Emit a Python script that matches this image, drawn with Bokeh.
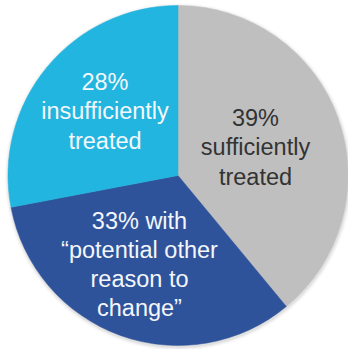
import math

from bokeh.core.properties import value
from bokeh.embed import file_html
from bokeh.models import ColumnDataSource, Range1d
from bokeh.plotting import figure
from bokeh.resources import INLINE

# Share of patients per treatment status (percent), clockwise from 12 o'clock
categories = ["sufficiently treated", "potential other reason to change", "insufficiently treated"]
shares = [39, 33, 28]
label_lines = [
    ["{}%", "sufficiently", "treated"],
    ["{}% with", "\u201cpotential other", "reason to", "change\u201d"],
    ["{}%", "insufficiently", "treated"],
]

colors = ["#BFBFBF", "#2E539B", "#21B5DF"]
text_colors = ["#333333", "#F4F6FA", "#F4F8FB"]

W, H = 348, 349
cx, cy, r = 177.5, H - 175, 170

# Label anchor points (page pixels, y measured from the top)
label_x = [255, 139, 104.5]
label_y_top = [147, 264, 111]

total = sum(shares)
starts, ends = [], []
acc = 0.0
for s in shares:
    starts.append(math.pi / 2 - 2 * math.pi * acc / total)
    acc += s
    ends.append(math.pi / 2 - 2 * math.pi * acc / total)

src = ColumnDataSource(dict(
    cat=categories, start=starts, end=ends, color=colors,
))

labels = ColumnDataSource(dict(
    x=label_x,
    y=[H - v for v in label_y_top],
    text=["\n".join([ln[0].format(v)] + ln[1:]) for ln, v in zip(label_lines, shares)],
    color=text_colors,
))

p = figure(width=W, height=H, output_backend="svg", toolbar_location=None,
           x_range=Range1d(0, W), y_range=Range1d(0, H), min_border=0)
p.axis.visible = False
p.grid.visible = False
p.outline_line_color = None
p.background_fill_color = "white"
p.border_fill_color = "white"

# soft drop shadow under the pie
for k, a in enumerate([0.10, 0.07, 0.05, 0.03]):
    p.circle(x=cx + 0.5, y=cy - 1.5, radius=r + 1 + k, fill_color="#808080",
             fill_alpha=a, line_color=None)

p.wedge(x=cx, y=cy, radius=r, start_angle="start", end_angle="end",
        direction="clock", fill_color="color", line_color="color",
        line_width=0.5, source=src)

p.text(x="x", y="y", text="text", source=labels, text_color="color",
       text_font=value("Liberation Sans"), text_font_size="23.5px",
       text_align="center", text_baseline="middle", text_line_height=1.12)

open("out.html", "w").write(file_html(p, INLINE))
